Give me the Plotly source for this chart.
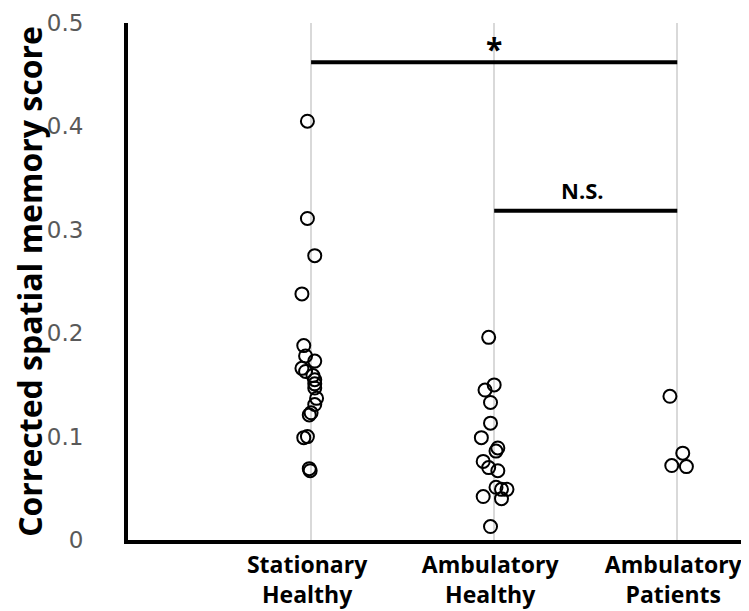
import plotly.graph_objects as go

categories = ["Stationary<br>Healthy", "Ambulatory<br>Healthy", "Ambulatory<br>Patients"]

stationary_healthy = [0.405, 0.311, 0.275, 0.238, 0.188, 0.178, 0.173, 0.166, 0.163,
                      0.159, 0.155, 0.151, 0.147, 0.137, 0.131, 0.123, 0.121,
                      0.099, 0.100, 0.069, 0.067]
stationary_jitter = [-0.02, -0.02, 0.02, -0.05, -0.04, -0.03, 0.02, -0.05, -0.03,
                     0.01, 0.02, 0.02, 0.02, 0.03, 0.02, 0.0, -0.01,
                     -0.04, -0.02, -0.01, -0.005]

ambulatory_healthy = [0.196, 0.150, 0.145, 0.133, 0.113, 0.099, 0.089, 0.086, 0.076,
                      0.070, 0.067, 0.051, 0.049, 0.049, 0.040, 0.042, 0.013]
ambulatory_jitter = [-0.03, 0.0, -0.05, -0.02, -0.02, -0.07, 0.02, 0.01, -0.06,
                     -0.03, 0.02, 0.01, 0.04, 0.07, 0.04, -0.06, -0.02]

ambulatory_patients = [0.139, 0.084, 0.072, 0.071]
patients_jitter = [-0.04, 0.03, -0.03, 0.05]

sig_star = {"x": [1, 3], "y": 0.462, "label": "*"}
sig_ns = {"x": [2, 3], "y": 0.3185, "label": "N.S."}

FONT = "Open Sans, Noto Sans, sans-serif"

fig = go.Figure()

groups = [
    (1, stationary_healthy, stationary_jitter),
    (2, ambulatory_healthy, ambulatory_jitter),
    (3, ambulatory_patients, patients_jitter),
]
for pos, vals, jit in groups:
    fig.add_trace(go.Scatter(
        x=[pos + j for j in jit], y=vals, mode="markers",
        marker=dict(size=13, color="rgba(255,255,255,0)",
                    line=dict(color="black", width=2)),
        showlegend=False, hoverinfo="y", cliponaxis=False,
    ))

for sig in (sig_star, sig_ns):
    fig.add_trace(go.Scatter(
        x=sig["x"], y=[sig["y"], sig["y"]], mode="lines",
        line=dict(color="black", width=4), showlegend=False, hoverinfo="skip",
    ))
    is_star = sig["label"] == "*"
    fig.add_annotation(
        x=sum(sig["x"]) / 2, y=sig["y"], text="<b>" + sig["label"] + "</b>",
        showarrow=False, yanchor="bottom", yshift=(-9 if is_star else 4),
        xshift=(0 if is_star else -3),
        font=dict(family=FONT, size=(30 if is_star else 22), color="black"),
    )

fig.update_layout(
    width=741, height=603,
    margin=dict(l=120, r=4, t=15, b=71),
    plot_bgcolor="white", paper_bgcolor="white",
    font=dict(family=FONT),
    xaxis=dict(
        range=[0, 3.37], tickvals=[1, 2, 3], ticktext=["<b>" + c + "</b>" for c in categories],
        showgrid=True, gridcolor="#d9d9d9", gridwidth=1.5, zeroline=False,
        showline=True, linecolor="black", linewidth=4,
        tickfont=dict(family=FONT, size=23, color="black"), ticks="",
        ticklabelstandoff=1, ticklabelshift=-4,
        automargin=False,
    ),
    yaxis=dict(
        range=[0, 0.5], tickvals=[0, 0.1, 0.2, 0.3, 0.4, 0.5],
        ticktext=["0", "0.1", "0.2", "0.3", "0.4", "0.5"],
        showgrid=False, zeroline=False,
        showline=True, linecolor="black", linewidth=4,
        tickfont=dict(family="DejaVu Sans, sans-serif", size=23, color="#595959"),
        ticks="", ticklabelstandoff=36, automargin=False,
        title=dict(text="<b>Corrected spatial memory score</b>",
                   font=dict(family=FONT, size=32, color="black"), standoff=4),
    ),
)

fig.write_html("out.html")
